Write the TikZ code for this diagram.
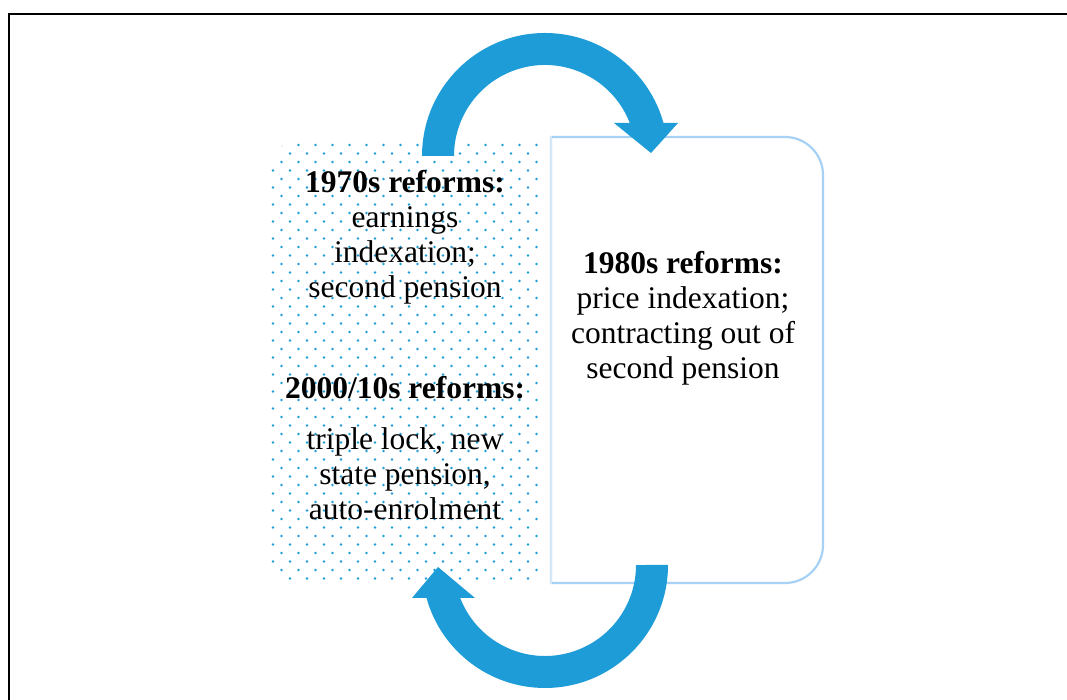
\documentclass[tikz,border=0pt]{standalone}
\usepackage{fontspec}
\setmainfont{Liberation Serif}

\definecolor{arrowblue}{HTML}{1E9CD7}
\definecolor{dotblue}{HTML}{1E9CD7}
\definecolor{boxline}{HTML}{A8D2F5}
\definecolor{boxlinelight}{HTML}{D4E8FA}

\tikzset{
    reformtext/.style={align=center, text=black, inner sep=0pt,
        font={\fontsize{31.5}{35}\selectfont}},
    bigarrow/.style={fill=arrowblue, draw=none}
}

\begin{document}
\begin{tikzpicture}[x=1pt, y=1pt]

    % Page and frame
    \fill[white] (0,0) rectangle (1067,700);
    \useasboundingbox (0,0) rectangle (1067,700);
    \draw[line width=1.6pt] (9,0) -- (9,686) -- (1067,686);

    % Dotted panel on the left (rounded on its left side)
    \begin{scope}
        \clip (539,118) -- (539,559) [rounded corners=26pt] -- (271,559) -- (271,118) [sharp corners] -- cycle;
        \foreach \r in {0,...,51} {
            \pgfmathsetmacro{\xs}{273+8.5*mod(\r+1,2)}
            \foreach \k in {0,...,15}
                \fill[dotblue] (\xs+17*\k, 555-8.5*\r) circle (1.3pt);
        }
    \end{scope}

    % Outlined panel on the right (rounded on its right side)
    \draw[boxline, line width=2.2pt] (551,117) -- (551,563) [rounded corners=38pt] -- (823,563) -- (823,117) [sharp corners] -- cycle;
    \draw[boxlinelight, line width=2.2pt] (551,116) -- (551,564); % paler left edge

    % Texts of the two panels
    \node[reformtext] (seventies) at (405,462.5) {\textbf{1970s reforms:}\\earnings\\indexation;\\second pension};
    \node[reformtext] (noughties) at (405,312) {\textbf{2000/10s reforms:}};
    \node[reformtext] (noughtiesitems) at (405,226) {triple lock, new\\state pension,\\auto-enrolment};
    \node[reformtext] (eighties) at (683,382) {\textbf{1980s reforms:}\\price indexation;\\contracting out of\\second pension};

    % Turning points of the two curved arrows
    \coordinate (topturn) at (545,544);
    \coordinate (bottomturn) at (545,135);

    % Curved arrow over the top, left panel to right panel
    \fill[bigarrow] ([shift={(topturn)}]180:123) arc[start angle=180, end angle=15.56, radius=123]
        -- (678,577) -- (651,547) -- (614,577) -- (629.8,577)
        arc[start angle=21.26, end angle=180, radius=91] -- cycle;

    % Curved arrow under the bottom, right panel back to left panel
    \fill[bigarrow] ([shift={(bottomturn)}]0:123) arc[start angle=0, end angle=-164.44, radius=123]
        -- (412,102) -- (438,133) -- (475,102) -- (460.2,102)
        arc[start angle=-158.74, end angle=0, radius=91] -- cycle;

\end{tikzpicture}
\end{document}
